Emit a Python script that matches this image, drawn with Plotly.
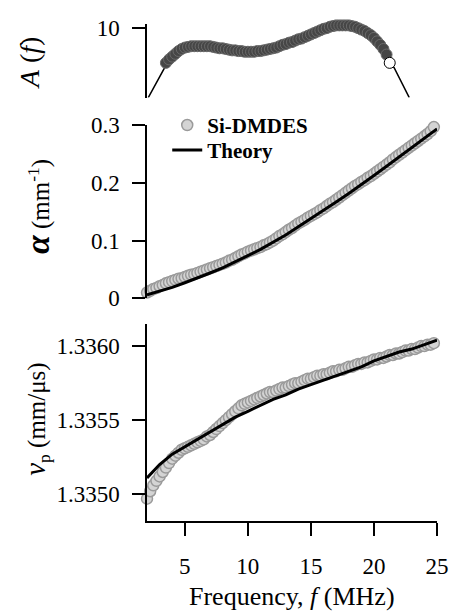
import plotly.graph_objects as go

# ---------------- data ----------------
# top panel: amplitude spectrum A(f)
amp_line_f = [2.1, 2.75, 3.4, 3.5, 5.0, 6.5, 8.0, 10.0, 12.0, 14.0, 16.0, 17.5, 19.0, 20.0, 21.0, 21.25, 21.6, 22.2, 22.8]
amp_line_a = [0.0, 2.1, 4.3, 5.0, 7.2, 7.4, 7.1, 6.6, 7.1, 8.4, 9.9, 10.4, 9.8, 8.6, 6.2, 5.0, 4.3, 2.1, 0.0]

amp_f = [3.50, 3.75, 4.00, 4.25, 4.50, 4.75, 5.00, 5.25, 5.50, 5.75, 6.00, 6.25, 6.50, 6.75,
         7.00, 7.25, 7.50, 7.75, 8.00, 8.25, 8.50, 8.75, 9.00, 9.25, 9.50, 9.75, 10.00, 10.25,
         10.50, 10.75, 11.00, 11.25, 11.50, 11.75, 12.00, 12.25, 12.50, 12.75, 13.00, 13.25,
         13.50, 13.75, 14.00, 14.25, 14.50, 14.75, 15.00, 15.25, 15.50, 15.75, 16.00, 16.25,
         16.50, 16.75, 17.00, 17.25, 17.50, 17.75, 18.00, 18.25, 18.50, 18.75, 19.00, 19.25,
         19.50, 19.75, 20.00, 20.25, 20.50, 20.75, 21.00, 21.25]
amp_a = [5.0, 5.5, 5.9, 6.3, 6.7, 7.0, 7.2, 7.3, 7.4, 7.4, 7.4, 7.4, 7.4, 7.4,
         7.4, 7.3, 7.2, 7.1, 7.1, 7.0, 6.9, 6.8, 6.8, 6.7, 6.7, 6.6, 6.6, 6.6,
         6.6, 6.7, 6.7, 6.8, 6.9, 7.0, 7.1, 7.2, 7.4, 7.6, 7.7, 7.9,
         8.0, 8.2, 8.4, 8.5, 8.7, 8.9, 9.1, 9.3, 9.5, 9.7, 9.9, 10.0,
         10.2, 10.3, 10.4, 10.4, 10.4, 10.4, 10.4, 10.3, 10.2, 10.0, 9.8, 9.6,
         9.3, 9.0, 8.6, 8.1, 7.6, 7.0, 6.2, 5.0]

# measured frequencies (MHz) for alpha and phase velocity
freq = [2.00, 2.25, 2.50, 2.75, 3.00, 3.25, 3.50, 3.75, 4.00, 4.25, 4.50, 4.75, 5.00, 5.25,
        5.50, 5.75, 6.00, 6.25, 6.50, 6.75, 7.00, 7.25, 7.50, 7.75, 8.00, 8.25, 8.50, 8.75,
        9.00, 9.25, 9.50, 9.75, 10.00, 10.25, 10.50, 10.75, 11.00, 11.25, 11.50, 11.75,
        12.00, 12.25, 12.50, 12.75, 13.00, 13.25, 13.50, 13.75, 14.00, 14.25, 14.50, 14.75,
        15.00, 15.25, 15.50, 15.75, 16.00, 16.25, 16.50, 16.75, 17.00, 17.25, 17.50, 17.75,
        18.00, 18.25, 18.50, 18.75, 19.00, 19.25, 19.50, 19.75, 20.00, 20.25, 20.50, 20.75,
        21.00, 21.25, 21.50, 21.75, 22.00, 22.25, 22.50, 22.75, 23.00, 23.25, 23.50, 23.75,
        24.00, 24.25, 24.50, 24.75]

alpha_meas = [0.010, 0.013, 0.016, 0.018, 0.021, 0.023, 0.026, 0.028, 0.030, 0.032, 0.034, 0.035,
              0.037, 0.039, 0.041, 0.042, 0.044, 0.046, 0.048, 0.050, 0.052, 0.054, 0.056, 0.058,
              0.060, 0.062, 0.065, 0.067, 0.070, 0.073, 0.076, 0.078, 0.081, 0.083, 0.085, 0.087,
              0.089, 0.092, 0.094, 0.097, 0.100, 0.104, 0.108, 0.111, 0.115, 0.119, 0.122, 0.126,
              0.130, 0.133, 0.136, 0.140, 0.143, 0.146, 0.149, 0.153, 0.156, 0.160, 0.164, 0.167,
              0.171, 0.175, 0.179, 0.183, 0.187, 0.191, 0.195, 0.198, 0.202, 0.205, 0.209, 0.212,
              0.216, 0.220, 0.224, 0.228, 0.232, 0.236, 0.241, 0.245, 0.249, 0.253, 0.257, 0.261,
              0.265, 0.269, 0.273, 0.277, 0.281, 0.285, 0.290, 0.297]

vp_meas = [1.33497, 1.33502, 1.33506, 1.33509, 1.33512, 1.33515, 1.33518, 1.33521, 1.33524,
           1.33526, 1.33528, 1.33530, 1.33531, 1.33532, 1.33533, 1.33534, 1.33535, 1.33536,
           1.33537, 1.33539, 1.33540, 1.33542, 1.33544, 1.33546, 1.33548, 1.33550, 1.33552,
           1.33554, 1.33556, 1.33558, 1.33560, 1.33561, 1.33562, 1.33563, 1.33564, 1.33565,
           1.33566, 1.33567, 1.33568, 1.33569, 1.33569, 1.33570, 1.33571, 1.33572, 1.33572,
           1.33573, 1.33574, 1.33575, 1.33575, 1.33576, 1.33577, 1.33578, 1.33578, 1.33579,
           1.33580, 1.33580, 1.33581, 1.33581, 1.33582, 1.33583, 1.33583, 1.33584, 1.33584,
           1.33585, 1.33586, 1.33586, 1.33587, 1.33588, 1.33588, 1.33589, 1.33589, 1.33590,
           1.33591, 1.33591, 1.33592, 1.33592, 1.33593, 1.33594, 1.33594, 1.33595, 1.33595,
           1.33596, 1.33597, 1.33597, 1.33598, 1.33598, 1.33599, 1.33600, 1.33600, 1.33601,
           1.33601, 1.33602]

# theory curves
theory_f = [2, 3, 4, 5, 6, 7, 8, 9, 10, 11, 12, 13, 14, 15, 16, 17, 18, 19, 20, 21, 22, 23, 24, 25]
alpha_theory = [0.006, 0.012, 0.019, 0.027, 0.035, 0.044, 0.053, 0.063, 0.074, 0.085, 0.097, 0.110,
                0.124, 0.138, 0.152, 0.167, 0.182, 0.197, 0.213, 0.229, 0.245, 0.261, 0.277, 0.294]
vp_theory = [1.33511, 1.33520, 1.33527, 1.33532, 1.33537, 1.33542, 1.33547, 1.33552, 1.33556,
             1.33560, 1.33564, 1.33567, 1.33571, 1.33574, 1.33577, 1.33580, 1.33583, 1.33586,
             1.33590, 1.33593, 1.33596, 1.33598, 1.33601, 1.33604]

x_ticks = [5, 10, 15, 20, 25]
alpha_ticks = [0, 0.1, 0.2, 0.3]
alpha_ticklabels = ["0", "0.1", "0.2", "0.3"]
vp_ticks = [1.3350, 1.3355, 1.3360]
vp_ticklabels = ["1.3350", "1.3355", "1.3360"]
amp_ticks = [10]

# ---------------- figure ----------------
FONT = "Liberation Serif, Times New Roman, serif"
meas_fill = "#d4d4d4"
meas_edge = "#9a9a9a"

top_px, bot_px = 21, 521
span = bot_px - top_px
left_px, right_px = 147, 448
xspan = right_px - left_px


def dom(a, b):
    return [(bot_px - b) / span, (bot_px - a) / span]


def px_x(p):
    return (p - left_px) / xspan


def px_y(p):
    return (bot_px - p) / span


fig = go.Figure()

# top panel
fig.add_trace(go.Scatter(x=amp_line_f, y=amp_line_a, mode="lines", line=dict(color="black", width=1.5),
                         xaxis="x", yaxis="y3", showlegend=False, hoverinfo="skip"))
amp_colors = ["#464646"] * (len(amp_f) - 1) + ["white"]
amp_edges = ["#6a6a6a"] * (len(amp_f) - 1) + ["black"]
fig.add_trace(go.Scatter(x=amp_f, y=amp_a, mode="markers",
                         marker=dict(size=11, color=amp_colors, line=dict(color=amp_edges, width=1)),
                         xaxis="x", yaxis="y3", showlegend=False, cliponaxis=False))

# middle panel
fig.add_trace(go.Scatter(x=freq, y=alpha_meas, mode="markers", name="<b>Si-DMDES</b>", legend="legend",
                         marker=dict(size=11, color=meas_fill, line=dict(color=meas_edge, width=1.5)),
                         xaxis="x", yaxis="y2", cliponaxis=False))
fig.add_trace(go.Scatter(x=theory_f, y=alpha_theory, mode="lines", name="<b>Theory</b>", legend="legend2",
                         line=dict(color="black", width=3), xaxis="x", yaxis="y2", cliponaxis=False))

# bottom panel
fig.add_trace(go.Scatter(x=freq, y=vp_meas, mode="markers", showlegend=False,
                         marker=dict(size=11, color=meas_fill, line=dict(color=meas_edge, width=1.5)),
                         xaxis="x", yaxis="y", cliponaxis=False))
fig.add_trace(go.Scatter(x=theory_f, y=vp_theory, mode="lines", showlegend=False,
                         line=dict(color="black", width=3), xaxis="x", yaxis="y", cliponaxis=False))

axis_common = dict(showline=True, linecolor="black", linewidth=1.5, ticks="outside", ticklen=13,
                   tickwidth=1.5, tickcolor="black", showgrid=False, zeroline=False,
                   tickfont=dict(family=FONT, size=23, color="black"))

legend_common = dict(xanchor="left", yanchor="middle", bgcolor="rgba(0,0,0,0)",
                     font=dict(family=FONT, size=21, color="black"), itemwidth=30,
                     borderwidth=0)

fig.update_layout(
    width=461, height=613,
    margin=dict(l=left_px, r=461 - right_px, t=top_px, b=613 - bot_px),
    paper_bgcolor="white", plot_bgcolor="white",
    font=dict(family=FONT, color="black"),
    xaxis=dict(domain=[0, 1], range=[2, 25], anchor="y", tickvals=x_ticks, ticklabelstandoff=11,
               **axis_common),
    yaxis=dict(domain=dom(323, 521), range=[1.334819, 1.336148], anchor="x",
               tickvals=vp_ticks, ticktext=vp_ticklabels, ticklabelstandoff=8, **axis_common),
    yaxis2=dict(domain=dom(123, 297), range=[0, 0.3], anchor="x",
                tickvals=alpha_ticks, ticktext=alpha_ticklabels, ticklabelstandoff=8, **axis_common),
    yaxis3=dict(domain=dom(21, 95), range=[0, 10.6], anchor="x",
                tickvals=amp_ticks, ticklabelstandoff=8, **axis_common),
    legend=dict(x=px_x(168), y=px_y(123), **legend_common),
    legend2=dict(x=px_x(168), y=px_y(148), **legend_common),
    showlegend=True,
)

fig.add_annotation(text="<i>A</i> (<i>f</i>)", x=px_x(25), y=px_y(60), xref="paper", yref="paper",
                   textangle=-90, showarrow=False, xanchor="center", yanchor="middle",
                   font=dict(family=FONT, size=28, color="black"))
fig.add_annotation(text="<b><i><span style='font-size:34px'>α</span></i></b> (mm<sup>-1</sup>)",
                   x=px_x(34), y=px_y(205), xref="paper", yref="paper",
                   textangle=-90, showarrow=False, xanchor="center", yanchor="middle",
                   font=dict(family=FONT, size=25, color="black"))
fig.add_annotation(text="<i><span style='font-size:29px'>v</span></i><sub>p</sub> (mm/μs)",
                   x=px_x(32), y=px_y(418), xref="paper", yref="paper",
                   textangle=-90, showarrow=False, xanchor="center", yanchor="middle",
                   font=dict(family=FONT, size=25, color="black"))
fig.add_annotation(text="Frequency, <i>f</i> (MHz)", x=px_x(297), y=px_y(597), xref="paper", yref="paper",
                   showarrow=False, xanchor="center", yanchor="middle",
                   font=dict(family=FONT, size=26, color="black"))

fig.write_html("out.html")
